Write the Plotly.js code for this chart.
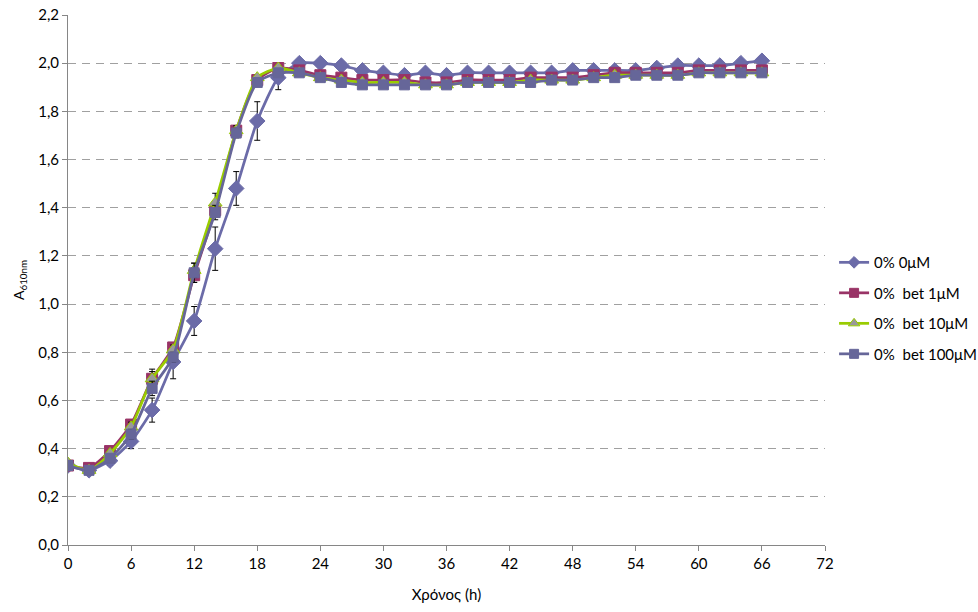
<!DOCTYPE html>
<html>
<head>
<meta charset="utf-8">
<script src="https://cdn.plot.ly/plotly-3.0.1.min.js"></script>
<style>
  html, body { margin: 0; padding: 0; background: #fff; }
  #chart { width: 978px; height: 612px; }
</style>
</head>
<body>
<div id="chart"></div>
<script>
// Sampling times (h)
const hours = [0, 2, 4, 6, 8, 10, 12, 14, 16, 18, 20, 22, 24, 26, 28, 30, 32,
               34, 36, 38, 40, 42, 44, 46, 48, 50, 52, 54, 56, 58, 60, 62, 64, 66];

// Optical density A610nm for each condition
const od0uM = [0.33, 0.31, 0.35, 0.43, 0.56, 0.76, 0.93, 1.23, 1.48, 1.76, 1.94, 2.00, 2.00, 1.99,
               1.97, 1.96, 1.95, 1.96, 1.95, 1.96, 1.96, 1.96, 1.96, 1.96, 1.97, 1.97, 1.97, 1.97,
               1.98, 1.99, 1.99, 1.99, 2.00, 2.01];
const od1uM = [0.33, 0.32, 0.39, 0.50, 0.69, 0.82, 1.12, 1.39, 1.72, 1.93, 1.98, 1.97, 1.95, 1.94,
               1.93, 1.93, 1.93, 1.92, 1.92, 1.93, 1.93, 1.93, 1.94, 1.94, 1.94, 1.95, 1.96, 1.96,
               1.96, 1.96, 1.97, 1.97, 1.97, 1.97];
const od10uM = [0.34, 0.31, 0.38, 0.49, 0.69, 0.81, 1.14, 1.42, 1.72, 1.94, 1.98, 1.96, 1.94, 1.93,
                1.92, 1.92, 1.92, 1.91, 1.91, 1.92, 1.92, 1.92, 1.93, 1.93, 1.93, 1.94, 1.95, 1.95,
                1.95, 1.95, 1.96, 1.96, 1.96, 1.96];
const od100uM = [0.33, 0.31, 0.36, 0.46, 0.65, 0.78, 1.13, 1.38, 1.71, 1.92, 1.96, 1.96, 1.94, 1.92,
                 1.91, 1.91, 1.91, 1.91, 1.91, 1.92, 1.92, 1.92, 1.92, 1.93, 1.93, 1.94, 1.94, 1.95,
                 1.95, 1.95, 1.96, 1.96, 1.96, 1.96];

// Standard deviations
const sd0uM = [0.01, 0.01, 0.02, 0.03, 0.05, 0.07, 0.06, 0.09, 0.07, 0.08, 0.05, 0.01, 0.01, 0.01,
               0.01, 0.01, 0.01, 0.01, 0.01, 0.01, 0.01, 0.01, 0.01, 0.01, 0.01, 0.01, 0.01, 0.01,
               0.01, 0.01, 0.01, 0.01, 0.01, 0.01];
const sd1uM = [0.01, 0.01, 0.01, 0.02, 0.04, 0.02, 0.03, 0.03, 0.02, 0.01, 0.01, 0.01, 0.01, 0.01,
               0.01, 0.01, 0.01, 0.01, 0.01, 0.01, 0.01, 0.01, 0.01, 0.01, 0.01, 0.01, 0.01, 0.01,
               0.01, 0.01, 0.01, 0.01, 0.01, 0.01];
const sd10uM = [0.01, 0.01, 0.01, 0.02, 0.03, 0.02, 0.03, 0.04, 0.02, 0.01, 0.01, 0.01, 0.01, 0.01,
                0.01, 0.01, 0.01, 0.01, 0.01, 0.01, 0.01, 0.01, 0.01, 0.01, 0.01, 0.01, 0.01, 0.01,
                0.01, 0.01, 0.01, 0.01, 0.01, 0.01];
const sd100uM = [0.01, 0.01, 0.01, 0.02, 0.03, 0.02, 0.04, 0.03, 0.02, 0.01, 0.01, 0.01, 0.01, 0.01,
                 0.01, 0.01, 0.01, 0.01, 0.01, 0.01, 0.01, 0.01, 0.01, 0.01, 0.01, 0.01, 0.01, 0.01,
                 0.01, 0.01, 0.01, 0.01, 0.01, 0.01];

const seriesNames = ['0% 0\u03bcM', '0%  bet 1\u03bcM', '0%  bet 10\u03bcM', '0%  bet 100\u03bcM'];
const xTicks = [0, 6, 12, 18, 24, 30, 36, 42, 48, 54, 60, 66, 72];

const FONT = 'Lato, "Noto Sans", "DejaVu Sans", sans-serif';

// Visual style for each condition
const styles = [
  { line: '#6b6ba8', symbol: 'diamond',     fill: '#6b6ba8', edge: '#6b6ba8', size: 12, key: 9 },
  { line: '#993366', symbol: 'square',      fill: '#993366', edge: '#993366', size: 11, key: 9 },
  { line: '#99cc00', symbol: 'triangle-up', fill: '#999999', edge: '#99cc00', size: 12, key: 10 },
  { line: '#666699', symbol: 'square',      fill: '#666699', edge: '#666699', size: 10, key: 9 }
];
const values = [od0uM, od1uM, od10uM, od100uM];
const errors = [sd0uM, sd1uM, sd10uM, sd100uM];

const traces = [];
values.forEach((y, i) => {
  const s = styles[i];
  // data curve
  traces.push({
    x: hours, y: y, name: seriesNames[i], type: 'scatter', mode: 'lines+markers',
    showlegend: false, legendgroup: 'g' + i,
    line: { color: s.line, width: 2.75, shape: 'spline', smoothing: 0.6 },
    marker: { symbol: s.symbol, size: s.size, color: s.fill, line: { color: s.edge, width: 1 } },
    error_y: { type: 'data', array: errors[i], visible: true, color: '#000', thickness: 1, width: 3 }
  });
});
values.forEach((y, i) => {
  const s = styles[i];
  // legend key with a smaller marker
  traces.push({
    x: [null], y: [null], name: seriesNames[i], type: 'scatter', mode: 'lines+markers',
    showlegend: true, legendgroup: 'g' + i,
    line: { color: s.line, width: 2.75 },
    marker: { symbol: s.symbol, size: s.key, color: s.fill, line: { color: s.edge, width: 1 } }
  });
});

const layout = {
  width: 978, height: 612,
  paper_bgcolor: '#fff', plot_bgcolor: '#fff',
  margin: { l: 68, r: 153, t: 15, b: 67, autoexpand: false },
  separators: ',.',
  font: { family: FONT, size: 15, color: '#000' },
  showlegend: true,
  legend: {
    x: 1.012, xanchor: 'left', y: 0.447, yanchor: 'middle',
    traceorder: 'grouped', tracegroupgap: 8,
    font: { family: FONT, size: 15, color: '#000' },
    bgcolor: 'rgba(0,0,0,0)'
  },
  xaxis: {
    range: [0, 72], tickvals: xTicks, ticktext: xTicks.map(String),
    showgrid: false, zeroline: false,
    showline: true, linecolor: '#868686', linewidth: 1,
    ticks: 'outside', ticklen: 5, tickcolor: '#868686',
    tickfont: { family: FONT, size: 15 },
    title: { text: 'Χρόνος (h)', font: { family: FONT, size: 15 }, standoff: 18 }
  },
  yaxis: {
    range: [0, 2.2], dtick: 0.2, tick0: 0, tickformat: '.1f',
    showgrid: true, gridcolor: '#a0a0a0', griddash: '8px,6px', gridwidth: 1,
    zeroline: false,
    showline: true, linecolor: '#868686', linewidth: 1,
    ticks: 'outside', ticklen: 5, tickcolor: '#868686',
    tickfont: { family: FONT, size: 15 },
    title: { text: 'A<sub>610nm</sub>', font: { family: FONT, size: 14 }, standoff: 10 }
  }
};

Plotly.newPlot('chart', traces, layout, { displayModeBar: false, staticPlot: true });
</script>
</body>
</html>
